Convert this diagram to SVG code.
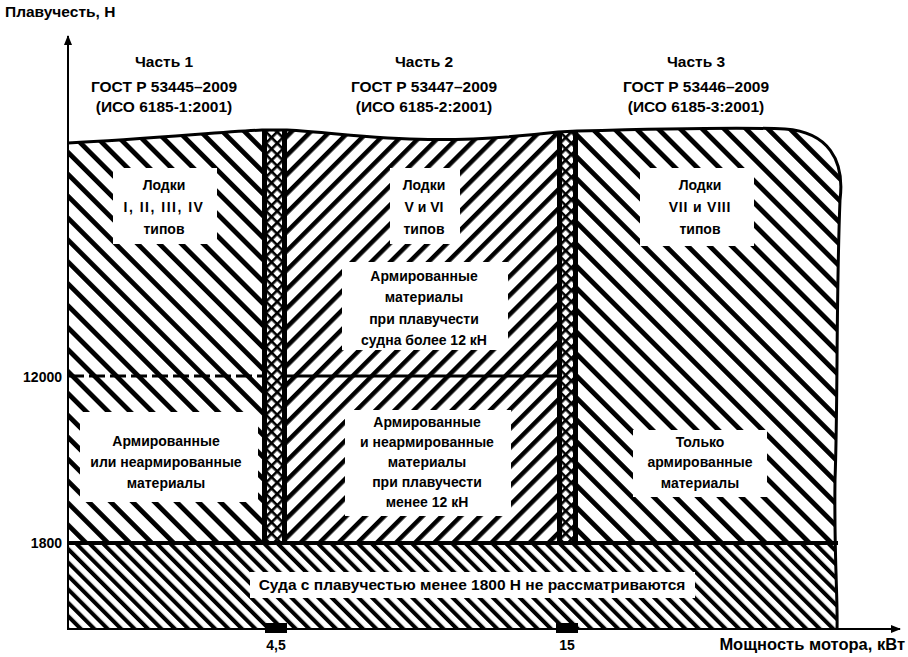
<svg xmlns="http://www.w3.org/2000/svg" width="908" height="657" viewBox="0 0 908 657">
<style>
.t{font-family:"Liberation Sans",Arial,sans-serif;font-weight:bold;font-size:14px;text-anchor:middle;fill:#000}
.h{font-size:15.5px}
.b{font-size:15.5px}
.e{text-anchor:end}
.w{fill:#fff}
.ln{stroke:#000;fill:none}
</style>
<defs>
<pattern id="hA" width="15.5" height="15.5" patternUnits="userSpaceOnUse" patternTransform="rotate(-45)"><rect width="4.8" height="15.5" fill="#000"/></pattern>
<pattern id="hB" width="13.5" height="13.5" patternUnits="userSpaceOnUse" patternTransform="rotate(45)"><rect width="4.5" height="13.5" fill="#000"/></pattern>
<pattern id="hC" width="9.5" height="9.5" patternUnits="userSpaceOnUse" patternTransform="rotate(-45)"><rect width="4" height="9.5" fill="#000"/></pattern>
<pattern id="xh" width="8" height="8" patternUnits="userSpaceOnUse" patternTransform="rotate(45 0 0)"><rect width="2.6" height="8" fill="#000"/><rect width="8" height="2.6" fill="#000"/></pattern>
<clipPath id="area"><path d="M68,143 C150,139 220,132 262,130 L287,130 C360,134 420,148 558,132 L577,131 C650,129 740,127 785,129 C828,132 845,160 840,200 C836,300 838,400 835,480 C834,560 838,600 837,630 L68,630 Z"/></clipPath>
<marker id="ar" markerWidth="10" markerHeight="8" refX="9" refY="4" orient="auto" markerUnits="userSpaceOnUse"><path d="M0,0 L10,4 L0,8 Z" fill="#000"/></marker>
</defs>
<rect width="908" height="657" fill="#fff"/>
<g id="regions" clip-path="url(#area)">
<rect x="68" y="100" width="194" height="443" fill="url(#hA)"/>
<rect x="287" y="100" width="271" height="443" fill="url(#hB)"/>
<rect x="577" y="100" width="270" height="443" fill="url(#hA)"/>
<rect x="68" y="543" width="780" height="87" fill="url(#hC)"/>
<g id="band1"><rect x="262" y="100" width="25" height="443" fill="#fff"/><rect x="262" y="100" width="25" height="443" fill="url(#xh)"/><rect x="262" y="100" width="5" height="443" fill="#000"/><rect x="282" y="100" width="5" height="443" fill="#000"/></g>
<g id="band2"><rect x="557" y="100" width="21" height="443" fill="#fff"/><rect x="557" y="100" width="21" height="443" fill="url(#xh)"/><rect x="557" y="100" width="5" height="443" fill="#000"/><rect x="573" y="100" width="5" height="443" fill="#000"/></g>
</g>
<g id="outline">
<path class="ln" stroke-width="3" d="M68,143 C150,139 220,132 262,130 L287,130 C360,134 420,148 558,132 L577,131 C650,129 740,127 785,129 C828,132 845,160 840,200 C836,300 838,400 835,480 C834,560 838,600 837,630"/>
<line class="ln" x1="68" y1="376" x2="262" y2="376" stroke-width="3" stroke-dasharray="16 5"/>
<line class="ln" x1="287" y1="376" x2="557" y2="376" stroke-width="3"/>
<line class="ln" x1="68" y1="543" x2="838" y2="543" stroke-width="4"/>
<rect x="265" y="623" width="22" height="10" fill="#000"/>
<rect x="556" y="623" width="22" height="10" fill="#000"/>
</g>
<g id="connectors">
<line class="ln" x1="68" y1="630" x2="68" y2="36" stroke-width="2" marker-end="url(#ar)"/>
<line class="ln" x1="68" y1="629" x2="900" y2="629" stroke-width="2" marker-end="url(#ar)"/>
</g>
<g id="n-s1-top"><rect class="w" x="113" y="168" width="104" height="76"/>
<text class="t" x="164" y="190">Лодки</text><text class="t" x="164" y="212" letter-spacing="1.5">I, II, III, IV</text><text class="t" x="164" y="234">типов</text></g>
<g id="n-s1-bot"><rect class="w" x="80" y="412" width="178" height="90"/>
<text class="t" x="166" y="446">Армированные</text><text class="t" x="166" y="467">или неармированные</text><text class="t" x="166" y="488">материалы</text></g>
<g id="n-s2-top"><rect class="w" x="390" y="168" width="70" height="76"/>
<text class="t" x="424" y="190">Лодки</text><text class="t" x="424" y="212">V и VI</text><text class="t" x="424" y="234">типов</text></g>
<g id="n-s2-mid"><rect class="w" x="342" y="262" width="166" height="88"/>
<text class="t" x="424" y="281">Армированные</text><text class="t" x="424" y="302">материалы</text><text class="t" x="424" y="324">при плавучести</text><text class="t" x="424" y="345">судна более 12 кН</text></g>
<g id="n-s2-bot"><rect class="w" x="345" y="410" width="166" height="106"/>
<text class="t" x="427" y="427">Армированные</text><text class="t" x="427" y="447">и неармированные</text><text class="t" x="427" y="467">материалы</text><text class="t" x="427" y="487">при плавучести</text><text class="t" x="427" y="507">менее 12 кН</text></g>
<g id="n-s3-top"><rect class="w" x="640" y="168" width="114" height="78"/>
<text class="t" x="700" y="190">Лодки</text><text class="t" x="700" y="212" letter-spacing="0.8">VII и VIII</text><text class="t" x="700" y="234">типов</text></g>
<g id="n-s3-bot"><rect class="w" x="633" y="430" width="134" height="67"/>
<text class="t" x="700" y="447">Только</text><text class="t" x="700" y="467">армированные</text><text class="t" x="700" y="488">материалы</text></g>
<g id="n-bottom"><rect class="w" x="250" y="572" width="445" height="26"/>
<text class="t b" x="472" y="590">Суда с плавучестью менее 1800 Н не рассматриваются</text></g>
<g id="headers">
<text class="t h" x="164" y="67">Часть 1</text><text class="t h" x="164" y="92">ГОСТ Р 53445–2009</text><text class="t h" x="164" y="112">(ИСО 6185-1:2001)</text>
<text class="t h" x="424" y="67">Часть 2</text><text class="t h" x="424" y="92">ГОСТ Р 53447–2009</text><text class="t h" x="424" y="112">(ИСО 6185-2:2001)</text>
<text class="t h" x="696" y="67">Часть 3</text><text class="t h" x="696" y="92">ГОСТ Р 53446–2009</text><text class="t h" x="696" y="112">(ИСО 6185-3:2001)</text>
</g>
<g id="axis-labels">
<text class="t" x="5" y="17" style="text-anchor:start;font-size:15.5px">Плавучесть, Н</text>
<text class="t e" x="62" y="382">12000</text>
<text class="t e" x="62" y="548">1800</text>
<text class="t" x="276" y="650">4,5</text>
<text class="t" x="567" y="650">15</text>
<text class="t e" x="905" y="650" style="font-size:16.5px">Мощность мотора, кВт</text>
</g>
</svg>
